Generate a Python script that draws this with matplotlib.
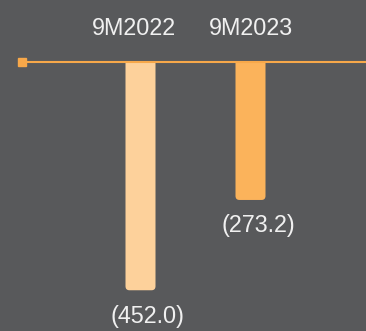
import matplotlib
matplotlib.use("Agg")
import matplotlib.pyplot as plt
from matplotlib.patches import FancyBboxPatch, Rectangle

categories = ["9M2022", "9M2023"]
values = [452.0, 273.2]
value_labels = ["(452.0)", "(273.2)"]
bar_colors = ["#FDD19B", "#FBB35B"]

BG = "#58595B"
LINE = "#F7A84A"
TEXT = "#F0F0F0"

W, H = 366, 331
fig = plt.figure(figsize=(W / 100, H / 100), dpi=100, facecolor=BG)
ax = fig.add_axes([0, 0, 1, 1], facecolor=BG)
ax.set_axis_off()

# axis geometry in pixels
spacing_px = 110.0
x0_px = 140.5
zero_px = 62.0          # from top
px_per_unit = 0.505

ax.set_xlim(-x0_px / spacing_px, (W - x0_px) / spacing_px)
top = zero_px / px_per_unit
bottom = -(H - zero_px) / px_per_unit
ax.set_ylim(bottom, top)

xs = list(range(len(categories)))
bar_w = 30 / spacing_px
bars = ax.bar(xs, [-v for v in values], width=bar_w, color=bar_colors)

# replace the plain bars with rounded ones, clipped at the baseline
clip = Rectangle((-10, -1e4), 20, 1e4, transform=ax.transData, visible=False)
ax.add_patch(clip)
rad_px = 4.0
aspect = spacing_px / px_per_unit
for b in bars:
    x, y = b.get_x(), b.get_y()
    w, h = b.get_width(), b.get_height()
    b.remove()
    y_bot = min(y, y + h)
    hh = abs(h) + 10 / px_per_unit
    patch = FancyBboxPatch((x, y_bot), w, hh,
                           boxstyle=f"round,pad=0,rounding_size={rad_px / spacing_px}",
                           mutation_aspect=aspect,
                           facecolor=b.get_facecolor(), edgecolor="none", zorder=2)
    ax.add_patch(patch)
    patch.set_clip_path(clip)

# baseline with square marker at its start
x_start = (22 - x0_px) / spacing_px
ax.plot([x_start, ax.get_xlim()[1]], [0, 0], color=LINE, lw=1.5, zorder=3,
        solid_capstyle="butt")
ax.plot([x_start], [0], marker="s", ms=6, color=LINE, zorder=4)

font = dict(family="Liberation Sans", weight="normal", size=16.8)
label_dx = [-7, 0]
for x, cat, dx in zip(xs, categories, label_dx):
    ax.annotate(cat, (x, 0), xytext=(dx, 33), textcoords="offset pixels",
                ha="center", va="center", color=TEXT, **font)

for x, v, lab in zip(xs, values, value_labels):
    ax.annotate(lab, (x, -v), xytext=(7.5, -26), textcoords="offset pixels",
                ha="center", va="center", color=TEXT, **font)

fig.savefig("out.png", dpi=100, facecolor=BG)
